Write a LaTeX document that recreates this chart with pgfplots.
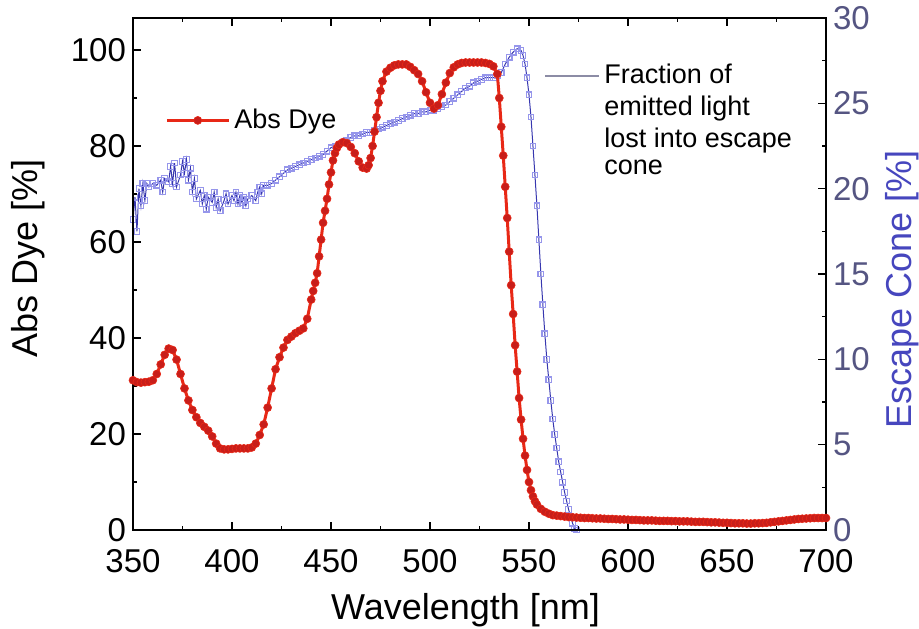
\documentclass[border=0pt]{standalone}
\usepackage{pgfplots}
\pgfplotsset{compat=1.18}
\usepackage{fontspec}
\setmainfont{Liberation Sans}
\definecolor{dyered}{RGB}{232,40,22}
\definecolor{dyemark}{RGB}{200,30,26}
\definecolor{conel}{RGB}{150,150,235}
\definecolor{coned}{RGB}{55,55,175}
\definecolor{conelab}{RGB}{70,70,190}
\definecolor{conetick}{RGB}{85,85,130}
\definecolor{legline}{RGB}{140,140,165}
\begin{document}
\begin{tikzpicture}
\pgfplotsset{
  every axis/.append style={
    scale only axis, width=346.5pt, height=256pt,
    xmin=350, xmax=700,
    /pgf/number format/assume math mode=true,
    tick align=inside,
    major tick length=4pt, minor tick length=2.2pt,
    every tick/.style={black, line width=0.6pt},
    tick label style={font=\fontsize{16.5}{16.5}\selectfont},
    label style={font=\fontsize{18}{18}\selectfont},
    axis line style={line width=0.8pt},
  }
}
% ---------- right axis : escape cone ----------
\begin{axis}[
  axis x line=none,
  axis y line*=right,
  ymin=0, ymax=30,
  ytick={0,5,...,30},
  minor y tick num=1,
  yticklabel style={color=conetick},
  ylabel={Escape Cone [\%]},
  ylabel style={color=conelab, at={(axis description cs:1.11,0.47)}, anchor=center},
  legend style={at={(axis description cs:0.593,0.918)}, anchor=north west, draw=none, fill=none,
    font=\fontsize{13.5}{13.5}\selectfont, row sep=0.6pt, inner sep=0pt,
    cells={anchor=west}},
  legend cell align=left,
  legend image code/.code={
    \draw plot coordinates {(0pt,0pt) (27pt,0pt)};
  },
]
\addplot[color=coned, line width=0.5pt, mark=square, mark size=1.4pt,
  mark options={color=conel, line width=0.6pt}, forget plot] coordinates {
(350,18.2)(351,19.5)(352,17.5)(353,20.0)(354,19.0)(355,20.3)(356,19.3)(357,20.3)
(358,20.1)(360,20.3)(362,20.2)(364,20.5)(365,19.8)(366,20.6)(368,20.4)(369,21.3)
(370,20.3)(371,21.5)(372,20.1)(374,20.8)(375,21.6)(376,20.9)(377,21.7)(378,20.5)
(379,21.2)(380,19.8)(381,20.6)(382,19.4)(384,19.9)(385,19.1)(386,19.6)(387,18.8)
(388,19.5)(390,19.2)(391,19.8)(392,18.9)(393,19.4)(394,18.7)(396,19.3)(397,19.7)
(398,19.1)(400,19.6)(401,19.3)(402,19.8)(403,19.1)(404,19.6)(405,19.2)(406,19.5)
(407,19.0)(408,19.4)(410,19.6)(412,19.3)(413,19.8)(414,20.1)(415,19.7)(416,20.2)
(418,20.2)(420,20.3)(422,20.5)(424,20.7)(426,20.9)(428,21.1)(430,21.2)(432,21.3)
(434,21.4)(436,21.5)(438,21.6)(440,21.7)(442,21.8)(444,21.9)(446,22.0)(448,22.2)
(450,22.4)(452,22.5)(454,22.6)(456,22.7)(458,22.8)(460,23.0)(462,23.1)(464,23.1)
(466,23.2)(468,23.3)(470,23.3)(472,23.4)(474,23.5)(476,23.6)(478,23.7)(480,23.8)
(482,23.9)(484,24.0)(486,24.1)(488,24.2)(490,24.3)(492,24.4)(494,24.4)(496,24.5)
(498,24.5)(500,24.6)(502,24.6)(504,24.7)(506,24.8)(508,24.9)(510,25.1)(512,25.3)
(514,25.5)(516,25.7)(518,25.9)(520,26.0)(522,26.2)(524,26.3)(526,26.4)(528,26.5)
(530,26.5)(532,26.5)(534,26.6)(536,26.8)(538,27.3)(540,27.7)(542,28.0)(544,28.2)
(546,28.1)(547,27.8)(548,27.3)(549,26.5)(550,25.5)(551,24.2)(552,22.5)(553,20.8)
(554,19.0)(555,17.0)(556,15.0)(557,13.2)(558,11.5)(559,10.0)(560,8.8)(561,7.6)
(562,6.5)(563,5.6)(564,4.8)(565,4.0)(566,3.4)(567,2.8)(568,2.2)(569,1.7)
(570,1.2)(571,0.8)(572,0.4)(573,0.1)(574,0.0)
};
\addlegendimage{color=legline, line width=1pt}
\addlegendentry{Fraction of}
\addlegendimage{empty legend}
\addlegendentry{emitted light}
\addlegendimage{empty legend}
\addlegendentry{lost into escape}
\addlegendimage{empty legend}
\addlegendentry{cone}
\end{axis}
% ---------- left axis : absorption of dye ----------
\begin{axis}[
  ymin=0, ymax=106.667,
  xtick={350,400,...,700},
  minor x tick num=1,
  ytick={0,20,...,100},
  minor y tick num=1,
  ytick pos=left,
  xtick pos=both,
  xticklabel style={yshift=-6pt},
  xlabel={Wavelength [nm]},
  ylabel={Abs Dye [\%]},
  xlabel style={at={(axis description cs:0.48,0)}, anchor=north, yshift=-28pt},
  ylabel style={at={(axis description cs:-0.117,0.53)}, anchor=south},
  legend style={at={(axis description cs:0.046,0.80)}, anchor=west, draw=none, fill=none,
    font=\fontsize{13.5}{13.5}\selectfont, inner sep=0pt},
  legend image code/.code={
    \draw[mark repeat=2, mark phase=2] plot coordinates {(0pt,0pt) (15.5pt,0pt) (31pt,0pt)};
  },
]
\addplot[color=dyered, line width=1.5pt, mark=*, mark size=2pt,
  mark options={fill=dyemark, draw=dyered, line width=0.3pt}] coordinates {
(350,31.2)(352,30.8)(354,30.7)(356,30.8)(358,30.9)(360,31.2)(362,32.5)(364,34.5)
(366,36.5)(368,37.8)(370,37.5)(372,35.5)(374,32.5)(376,29.5)(378,27.0)(380,25.0)
(382,23.5)(384,22.3)(386,21.5)(388,20.7)(390,19.5)(392,18.0)(394,17.0)(396,16.8)
(398,16.8)(400,16.9)(402,17.0)(404,17.0)(406,17.0)(408,17.0)(410,17.2)(412,18.0)
(414,19.8)(416,22.0)(418,25.5)(420,29.5)(422,33.5)(424,36.0)(426,38.0)(428,39.6)
(430,40.3)(432,41.0)(434,41.5)(436,42.0)(438,44.0)(440,48.0)(441,49.8)(442,51.5)
(443,53.5)(444,57.0)(445,60.5)(446,64.0)(447,66.5)(448,69.0)(449,72.0)(450,74.5)
(451,77.0)(452,78.5)(453,79.6)(454,80.3)(456,80.8)(458,80.6)(460,79.8)(462,78.5)
(464,76.8)(466,75.5)(468,75.3)(469,76.0)(470,77.5)(471,80.0)(472,83.0)(473,86.0)
(474,89.0)(475,91.5)(476,93.5)(478,95.5)(480,96.3)(482,96.8)(484,97.0)(486,97.0)
(488,97.0)(490,96.5)(492,95.8)(494,95.0)(496,93.5)(498,91.2)(500,89.0)(502,87.8)
(504,88.5)(506,90.8)(508,93.2)(510,95.2)(512,96.4)(514,97.0)(516,97.3)(518,97.4)
(520,97.4)(522,97.4)(524,97.4)(526,97.4)(528,97.3)(530,97.1)(532,96.6)(534,95.0)
(535,90.0)(536,84.0)(537,78.0)(538,71.5)(539,65.0)(540,58.0)(541,51.0)(542,45.0)
(543,38.5)(544,33.0)(545,27.5)(546,23.0)(547,19.0)(548,15.5)(549,12.5)(550,10.0)
(551,8.3)(552,7.0)(553,6.0)(554,5.3)(556,4.4)(558,3.8)(560,3.4)(562,3.1)
(564,3.0)(566,2.9)(568,2.8)(570,2.7)(572,2.65)(574,2.6)(576,2.55)(578,2.5)
(580,2.5)(582,2.45)(584,2.4)(586,2.4)(588,2.35)(590,2.3)(592,2.3)(594,2.25)
(596,2.2)(598,2.2)(600,2.15)(602,2.1)(604,2.1)(606,2.05)(608,2.0)(610,2.0)
(612,2.0)(614,1.95)(616,1.9)(618,1.9)(620,1.9)(622,1.85)(624,1.85)(626,1.8)
(628,1.8)(630,1.8)(632,1.75)(634,1.7)(636,1.7)(638,1.7)(640,1.65)(642,1.6)
(644,1.6)(646,1.55)(648,1.5)(650,1.5)(652,1.45)(654,1.4)(656,1.4)(658,1.4)
(660,1.35)(662,1.35)(664,1.4)(666,1.4)(668,1.45)(670,1.5)(672,1.6)(674,1.7)
(676,1.8)(678,1.9)(680,2.0)(682,2.1)(684,2.2)(686,2.3)(688,2.35)(690,2.4)
(692,2.45)(694,2.5)(696,2.5)(698,2.5)(700,2.5)
};
\addlegendentry{Abs Dye}
\end{axis}
\pgfresetboundingbox
\path (-66.5pt,-49pt) rectangle (393pt,265pt);
\end{tikzpicture}
\end{document}
